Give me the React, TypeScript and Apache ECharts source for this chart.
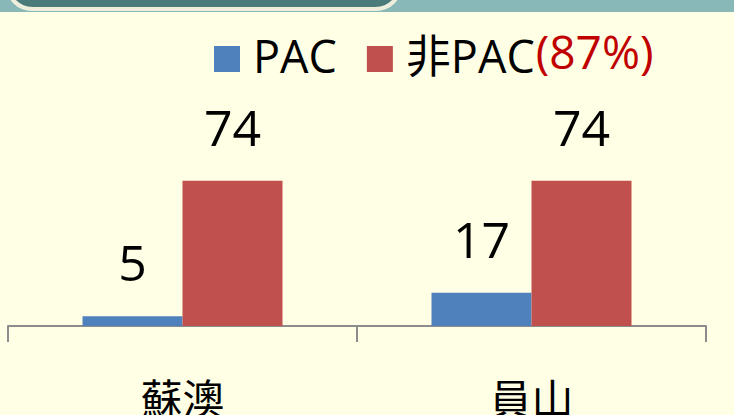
import React, { useEffect, useRef } from "react";
import * as echarts from "echarts";

const categories = ["蘇澳", "員山"];
const pacValues = [5, 17];
const nonPacValues = [74, 74];
const seriesNames = ["PAC", "非PAC"];
const nonPacShare = "(87%)";

const FONT = "'Open Sans', 'Noto Sans CJK TC', sans-serif";
const CJK = "'Noto Sans CJK TC', sans-serif";

export default function App() {
  const ref = useRef<HTMLDivElement>(null);
  useEffect(() => {
    if (!ref.current) return;
    const chart = echarts.init(ref.current, null, { renderer: "svg" });
    chart.setOption({
      animation: false,
      backgroundColor: "#FFFFE5",
      textStyle: { fontFamily: FONT },
      graphic: [
        { type: "rect", shape: { x: 0, y: 0, width: 734, height: 12 }, style: { fill: "#88B8B8" }, z: 1 },
        { type: "rect", shape: { x: 6, y: -40, width: 396, height: 51, r: 28 }, style: { fill: "#EFEEDC" }, z: 2 },
        { type: "rect", shape: { x: 9, y: -40, width: 390, height: 47, r: 25 }, style: { fill: "#4A7B7A" }, z: 3 },
      ],
      legend: {
        left: 214,
        top: 28,
        padding: 0,
        itemWidth: 26,
        itemHeight: 26,
        itemGap: 30,
        icon: "rect",
        data: seriesNames,
        formatter: (name: string) => (name === "非PAC" ? name + "{r|" + nonPacShare + "}" : name),
        textStyle: {
          fontSize: 45,
          color: "#000",
          fontFamily: FONT,
          padding: [0, 0, 8, 8],
          rich: { r: { fontSize: 46, color: "#C00000", fontFamily: FONT, padding: [0, 0, 8, 1] } },
        },
      },
      grid: { left: 8, right: 28, top: 169, bottom: 89, outerBoundsMode: "none", containLabel: false },
      xAxis: {
        type: "category",
        data: categories,
        axisLine: { lineStyle: { color: "#8C8C8C", width: 2 } },
        axisTick: { show: true, length: 16, lineStyle: { color: "#8C8C8C", width: 2 } },
        axisLabel: { fontSize: 42, color: "#000", margin: 49, fontFamily: CJK },
      },
      yAxis: { type: "value", min: 0, max: 80, show: false, splitLine: { show: false } },
      series: [
        {
          name: seriesNames[0],
          type: "bar",
          data: pacValues,
          barWidth: 100,
          barGap: "0%",
          itemStyle: { color: "#4F81BD" },
          label: { show: true, position: "top", fontSize: 50, color: "#000", distance: 29, fontFamily: FONT },
        },
        {
          name: seriesNames[1],
          type: "bar",
          data: nonPacValues,
          barWidth: 100,
          barGap: "0%",
          itemStyle: { color: "#C0504D" },
          label: { show: true, position: "top", fontSize: 50, color: "#000", distance: 29, fontFamily: FONT },
        },
      ],
    });
    return () => chart.dispose();
  }, []);
  return <div ref={ref} style={{ position: "fixed", left: 0, top: 0, width: 734, height: 415 }} />;
}
